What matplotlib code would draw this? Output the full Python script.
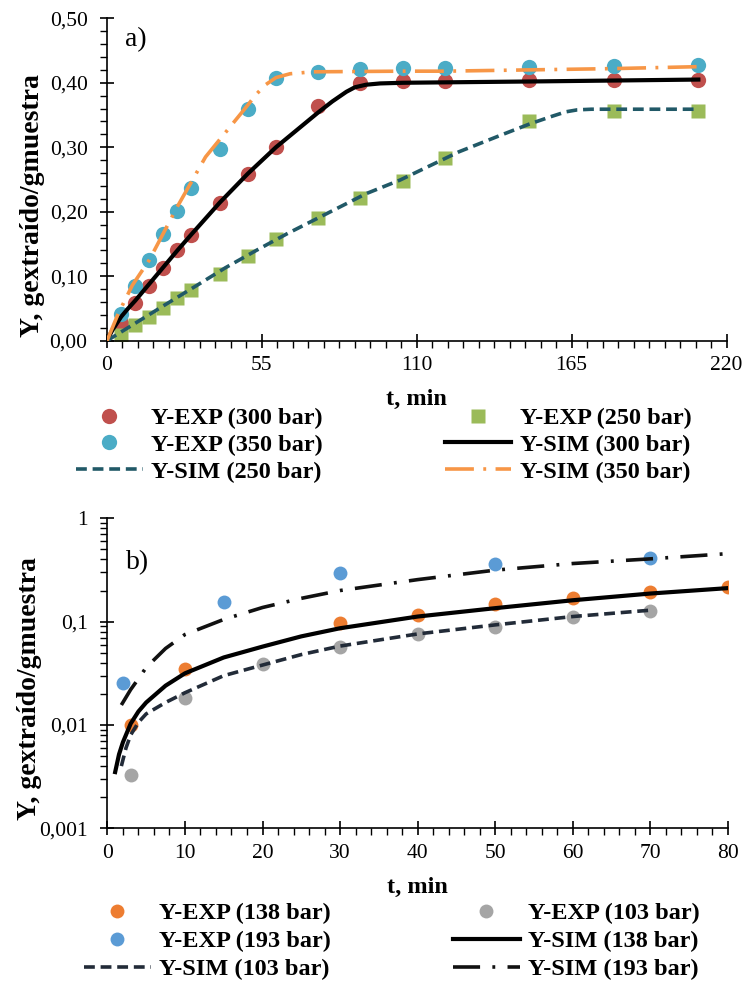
import matplotlib
matplotlib.use("Agg")
import matplotlib.pyplot as plt
from matplotlib.ticker import MultipleLocator, FixedLocator, FuncFormatter, LogLocator, NullFormatter
from matplotlib.lines import Line2D

plt.rcParams['font.family'] = ['Liberation Serif', 'DejaVu Serif']

# ---- panel a) data ----
t_exp_a = [5, 10, 15, 20, 25, 30, 40, 50, 60, 75, 90, 105, 120, 150, 180, 210]
y_exp_300 = [0.027, 0.058, 0.085, 0.112, 0.140, 0.164, 0.213, 0.258, 0.301, 0.364, 0.399,
             0.403, 0.403, 0.404, 0.405, 0.405]
y_exp_350 = [0.042, 0.085, 0.125, 0.165, 0.201, 0.237, 0.298, 0.360, 0.407, 0.417, 0.421,
             0.423, 0.423, 0.425, 0.426, 0.428]
y_exp_250 = [0.009, 0.024, 0.037, 0.050, 0.066, 0.079, 0.104, 0.131, 0.157, 0.190, 0.221,
             0.247, 0.284, 0.341, 0.357, 0.357]

t_sim_300 = [0, 1, 2, 3.5, 5, 7.5, 10, 15, 20, 25, 30, 40, 50, 60, 70, 75, 80, 85, 88, 92, 97,
             105, 150, 210]
y_sim_300 = [0, 0.009, 0.017, 0.027, 0.037, 0.050, 0.062, 0.088, 0.114, 0.140, 0.165, 0.214,
             0.259, 0.300, 0.336, 0.354, 0.371, 0.386, 0.393, 0.397, 0.399, 0.400, 0.402, 0.405]
t_sim_350 = [0, 4, 9, 15, 25, 35, 49, 53, 56, 60, 65, 73, 105, 120, 150, 180, 210]
y_sim_350 = [0, 0.042, 0.086, 0.125, 0.208, 0.285, 0.360, 0.382, 0.396, 0.408, 0.414, 0.417,
             0.418, 0.418, 0.420, 0.422, 0.425]
t_sim_250 = [0, 10, 20, 32, 42, 53, 64, 78, 92, 104, 115, 125, 140, 150, 158, 163, 167, 172, 210]
y_sim_250 = [0, 0.027, 0.054, 0.086, 0.113, 0.140, 0.166, 0.197, 0.228, 0.249, 0.272, 0.293,
             0.319, 0.336, 0.348, 0.355, 0.358, 0.359, 0.359]

# ---- panel b) data ----
t_exp_138 = [3, 10, 30, 40, 50, 60, 70, 80]
y_exp_138 = [0.010, 0.0348, 0.097, 0.117, 0.149, 0.171, 0.194, 0.217]
t_exp_193 = [2, 15, 30, 50, 70]
y_exp_193 = [0.0254, 0.154, 0.298, 0.362, 0.412]
t_exp_103 = [3, 10, 20, 30, 40, 50, 60, 70]
y_exp_103 = [0.00328, 0.0181, 0.0387, 0.0573, 0.0755, 0.0883, 0.111, 0.127]

t_sim_138 = [1, 1.5, 2, 3, 4, 5, 7.5, 10, 15, 20, 25, 30, 40, 50, 60, 70, 80]
y_sim_138 = [0.0035, 0.0052, 0.0068, 0.0103, 0.0135, 0.0165, 0.024, 0.0316, 0.045, 0.0573,
             0.072, 0.0863, 0.112, 0.135, 0.161, 0.187, 0.211]
t_sim_103 = [1.8, 2.4, 3, 4, 5, 7.5, 10, 15, 20, 25, 30, 40, 50, 60, 70]
y_sim_103 = [0.0040, 0.0060, 0.0080, 0.0106, 0.0128, 0.0165, 0.0205, 0.030, 0.038, 0.048,
             0.058, 0.076, 0.093, 0.112, 0.129]
t_sim_193 = [1.8, 3, 4, 5, 7.5, 10, 15, 20, 25, 30, 40, 50, 60, 70, 80]
y_sim_193 = [0.0156, 0.022, 0.028, 0.036, 0.055, 0.075, 0.105, 0.137, 0.168, 0.200, 0.255,
             0.315, 0.365, 0.405, 0.455]

TICK_FS = 15.5
XLABEL_FS = 17.5
YLABEL_FS = 20
LEG_FS = 17.5


def style_axes(ax):
    for s in ["top", "right"]:
        ax.spines[s].set_visible(False)
    for s in ["left", "bottom"]:
        ax.spines[s].set_linewidth(1.2)
    ax.tick_params(which="major", direction="inout", length=10, width=1.2, labelsize=TICK_FS)
    ax.tick_params(axis="x", which="major", pad=6)
    ax.tick_params(axis="y", which="major", pad=9)
    ax.tick_params(which="minor", direction="out", length=5, width=1.0)


def legend_kw(anchor, spacing):
    return dict(ncol=2, loc="upper left", bbox_to_anchor=anchor, frameon=False,
                borderpad=0, borderaxespad=0, handlelength=2.75, handletextpad=0.35,
                columnspacing=5.0, labelspacing=spacing,
                prop={'size': LEG_FS, 'weight': 'bold'})


fig = plt.figure(figsize=(7.45, 9.88), dpi=100)

# ================= panel a =================
ax1 = fig.add_axes([107/745, 1-340.7/988, 619.5/745, 322.4/988])
ax1.plot(t_exp_a, y_exp_300, 'o', ms=11, color='#C0504D', mec='none', zorder=2)
ax1.plot(t_exp_a, y_exp_350, 'o', ms=11, color='#4BACC6', mec='none', zorder=2)
ax1.plot(t_exp_a, y_exp_250, 's', ms=10.5, color='#9BBB59', mec='none', zorder=2)
ax1.plot(t_sim_300, y_sim_300, '-', lw=3, color='black', zorder=3)
ax1.plot(t_sim_250, y_sim_250, '--', lw=2.6, color='#215967', dashes=(3, 1.6), zorder=3)
ax1.plot(t_sim_350, y_sim_350, '-.', lw=2.6, color='#F79646', dashes=(8, 2.6, 0.8, 2.6), zorder=3)

ax1.set_xlim(0, 220)
ax1.set_ylim(0, 0.5)
ax1.xaxis.set_major_locator(MultipleLocator(55))
ax1.xaxis.set_minor_locator(MultipleLocator(5.5))
ax1.yaxis.set_major_locator(MultipleLocator(0.1))
ax1.yaxis.set_minor_locator(MultipleLocator(0.02))
ax1.yaxis.set_major_formatter(FuncFormatter(lambda v, p: f"{v:.2f}".replace(".", ",")))
ax1.xaxis.set_major_formatter(FuncFormatter(lambda v, p: f"{v:g}"))
style_axes(ax1)
ax1.set_xlabel("t, min", fontsize=XLABEL_FS, fontweight="bold", labelpad=10)
ax1.set_ylabel("Y, gextraído/gmuestra", fontsize=YLABEL_FS, fontweight="bold")
ax1.yaxis.set_label_coords(-0.100, 0.42)
ax1.text(6.5, 0.486, "a)", fontsize=20, va="top", ha="left")

h_a = [Line2D([], [], ls='none', marker='o', ms=11, color='#C0504D', mec='none'),
       Line2D([], [], ls='none', marker='o', ms=11, color='#4BACC6', mec='none'),
       Line2D([], [], ls='--', lw=2.6, color='#215967', dashes=(3, 1.6)),
       Line2D([], [], ls='none', marker='s', ms=10.5, color='#9BBB59', mec='none'),
       Line2D([], [], ls='-', lw=3, color='black'),
       Line2D([], [], ls='-.', lw=2.6, color='#F79646', dashes=(8, 2.6, 0.8, 2.6))]
l_a = ["Y-EXP (300 bar)", "Y-EXP (350 bar)", "Y-SIM (250 bar)",
       "Y-EXP (250 bar)", "Y-SIM (300 bar)", "Y-SIM (350 bar)"]
fig.legend(h_a, l_a, **legend_kw((76/745, 1-407/988), 0.2))

# ================= panel b =================
ax2 = fig.add_axes([107.4/745, 1-828.3/988, 620.4/745, 310/988])
ax2.plot(t_exp_138, y_exp_138, 'o', ms=10, color='#ED7D31', mec='none', zorder=2)
ax2.plot(t_exp_193, y_exp_193, 'o', ms=10, color='#5B9BD5', mec='none', zorder=2)
ax2.plot(t_exp_103, y_exp_103, 'o', ms=10, color='#A5A5A5', mec='none', zorder=2)
ax2.plot(t_sim_138, y_sim_138, '-', lw=3, color='black', zorder=3)
ax2.plot(t_sim_103, y_sim_103, '--', lw=2.6, color='#222B38', dashes=(3, 1.6), zorder=3)
ax2.plot(t_sim_193, y_sim_193, '-.', lw=2.6, color='#111111', dashes=(7.5, 3.4, 0.8, 3.4), zorder=3)

ax2.set_yscale("log")
ax2.set_xlim(0, 80)
ax2.set_ylim(0.001, 1)
ax2.xaxis.set_major_locator(MultipleLocator(10))
ax2.xaxis.set_minor_locator(MultipleLocator(2))
ax2.yaxis.set_major_locator(FixedLocator([0.001, 0.01, 0.1, 1]))
ax2.yaxis.set_minor_locator(LogLocator(base=10, subs=range(2, 10)))
ax2.yaxis.set_minor_formatter(NullFormatter())
ax2.yaxis.set_major_formatter(FuncFormatter(lambda v, p: f"{v:g}".replace(".", ",")))
ax2.xaxis.set_major_formatter(FuncFormatter(lambda v, p: f"{v:g}"))
style_axes(ax2)
ax2.set_xlabel("t, min", fontsize=XLABEL_FS, fontweight="bold", labelpad=10)
ax2.set_ylabel("Y, gextraído/gmuestra", fontsize=YLABEL_FS, fontweight="bold")
ax2.yaxis.set_label_coords(-0.105, 0.45)
ax2.text(2.4, 0.49, "b)", fontsize=20, va="top", ha="left")

h_b = [Line2D([], [], ls='none', marker='o', ms=10, color='#ED7D31', mec='none'),
       Line2D([], [], ls='none', marker='o', ms=10, color='#5B9BD5', mec='none'),
       Line2D([], [], ls='--', lw=2.6, color='#222B38', dashes=(3, 1.6)),
       Line2D([], [], ls='none', marker='o', ms=10, color='#A5A5A5', mec='none'),
       Line2D([], [], ls='-', lw=3, color='black'),
       Line2D([], [], ls='-.', lw=2.6, color='#111111', dashes=(7.5, 3.4, 0.8, 3.4))]
l_b = ["Y-EXP (138 bar)", "Y-EXP (193 bar)", "Y-SIM (103 bar)",
       "Y-EXP (103 bar)", "Y-SIM (138 bar)", "Y-SIM (193 bar)"]
fig.legend(h_b, l_b, **legend_kw((84/745, 1-902/988), 0.25))

fig.savefig("out.png", dpi=100)
